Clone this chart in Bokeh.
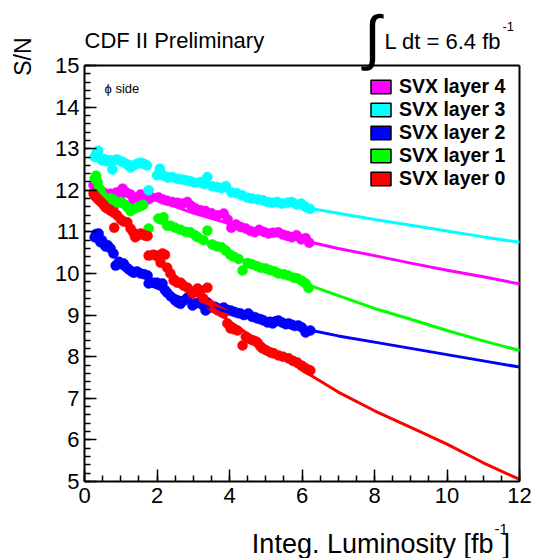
from bokeh.plotting import figure
from bokeh.models import Label, Legend, LegendItem, SingleIntervalTicker
from bokeh.core.properties import value
from bokeh.embed import file_html
from bokeh.resources import INLINE
import math

FONT = "Liberation Sans"

# ---------------- data ----------------
x_ticks = [0, 2, 4, 6, 8, 10, 12]
y_ticks = [5, 6, 7, 8, 9, 10, 11, 12, 13, 14, 15]

# SVX layer 4 (magenta)
x4 = [0.25,0.30,0.35,0.40,0.45,0.52,0.58,0.66,0.72,0.80,0.88,0.97,1.05,1.15,1.27,1.35,1.45,1.55,1.62,1.70,1.76,
      1.85,2.04,2.16,2.28,2.42,2.56,2.70,2.84,2.95,3.06,3.20,3.34,3.50,3.67,3.84,3.95,4.05,4.18,4.30,4.45,4.58,
      4.70,4.82,4.95,5.08,5.20,5.35,5.48,5.60,5.72,5.85,5.98,6.10,6.20]
y4 = [12.12,11.95,12.05,11.90,11.99,11.95,11.90,11.88,11.92,11.59,11.95,11.85,12.04,11.95,11.90,11.75,11.82,11.90,11.85,11.80,11.78,
      11.83,11.83,11.78,11.75,11.72,11.70,11.68,11.72,11.62,11.56,11.52,11.50,11.45,11.40,11.44,11.30,11.10,11.18,11.12,11.08,11.02,
      10.99,11.05,11.00,10.96,10.98,10.99,10.93,10.90,10.87,10.92,10.82,10.85,10.74]

# SVX layer 3 (cyan)
x3 = [0.28,0.33,0.38,0.42,0.48,0.55,0.62,0.70,0.77,0.82,0.90,1.00,1.08,1.18,1.27,1.35,1.45,1.55,1.63,1.72,1.77,
      2.00,2.08,2.18,2.30,2.42,2.55,2.68,2.80,2.92,3.05,3.20,3.30,3.39,3.52,3.65,3.78,3.90,4.05,4.20,4.35,4.50,
      4.62,4.78,4.92,5.05,5.18,5.32,5.45,5.60,5.72,5.85,5.98,6.10,6.22]
y3 = [12.80,12.90,12.95,12.78,12.72,12.75,12.70,12.72,12.50,12.72,12.74,12.70,12.67,12.62,12.55,12.60,12.64,12.66,12.64,12.60,12.00,
      12.36,12.52,12.35,12.30,12.32,12.28,12.26,12.24,12.22,12.18,12.20,12.15,12.32,12.10,12.08,12.05,12.10,11.95,11.93,11.88,11.82,
      11.80,11.78,11.76,11.72,11.70,11.72,11.68,11.70,11.72,11.66,11.68,11.60,11.55]

# SVX layer 2 (blue)
x2 = [0.28,0.32,0.36,0.39,0.44,0.48,0.53,0.58,0.64,0.72,0.80,0.86,0.95,1.02,1.08,1.15,1.22,1.30,1.36,1.45,1.55,1.65,1.74,
      1.77,1.90,2.00,2.10,2.15,2.22,2.28,2.38,2.50,2.58,2.65,2.75,2.84,2.98,3.06,3.15,3.25,3.34,3.39,3.50,3.60,3.67,
      3.76,3.84,3.95,4.03,4.12,4.22,4.30,4.40,4.52,4.62,4.70,4.77,4.86,4.94,5.05,5.12,5.19,5.27,5.35,5.45,5.55,5.63,
      5.72,5.80,5.90,6.00,6.10,6.23]
y2 = [10.87,10.95,10.85,10.96,10.75,10.80,10.72,10.65,10.68,10.60,10.48,10.19,10.28,10.22,10.24,10.15,10.10,10.05,10.02,10.05,10.00,9.98,9.95,
      9.76,9.78,9.78,9.74,9.76,9.60,9.54,9.45,9.35,9.30,9.27,9.35,9.42,9.23,9.28,9.30,9.25,9.11,9.30,9.18,9.20,9.16,
      9.15,9.18,9.12,9.11,9.08,9.05,9.04,9.00,9.04,8.96,8.95,8.92,8.90,8.87,8.82,8.84,8.80,8.85,8.87,8.82,8.78,8.80,
      8.77,8.74,8.75,8.70,8.58,8.63]

# SVX layer 1 (green)
x1 = [0.28,0.32,0.36,0.40,0.45,0.52,0.63,0.72,0.80,0.91,1.00,1.08,1.18,1.27,1.36,1.46,1.55,1.62,1.77,
      2.04,2.12,2.18,2.28,2.37,2.50,2.65,2.80,2.92,3.05,3.12,3.28,3.39,3.52,3.65,3.78,3.90,4.02,4.12,4.25,4.36,
      4.50,4.62,4.75,4.86,5.00,5.12,5.25,5.35,5.50,5.62,5.77,5.88,6.00,6.10,6.18]
y1 = [12.28,12.35,12.20,12.05,12.00,11.85,11.75,11.80,11.78,11.70,11.72,11.68,11.60,11.50,11.55,11.59,11.62,11.65,11.08,
      11.32,11.30,11.35,11.15,11.15,11.10,11.05,11.00,10.99,10.92,10.87,10.80,11.03,10.70,10.65,10.63,10.55,10.45,10.40,10.35,10.07,
      10.25,10.22,10.18,10.14,10.12,10.08,10.05,10.00,9.98,9.95,9.90,9.88,9.82,9.76,9.65]

# SVX layer 0 (red)
x0 = [0.25,0.30,0.36,0.42,0.48,0.53,0.58,0.65,0.72,0.80,0.82,0.90,1.00,1.08,1.18,1.27,1.35,1.40,1.48,1.55,1.62,1.68,1.74,
      1.77,1.90,2.00,2.10,2.15,2.22,2.28,2.37,2.46,2.56,2.65,2.73,2.84,2.98,3.06,3.12,3.20,3.28,3.39,3.47,3.56,3.66,
      3.75,3.84,3.94,4.03,4.12,4.22,4.36,4.45,4.52,4.62,4.70,4.77,4.85,4.91,5.02,5.13,5.22,5.35,5.48,5.63,5.75,5.87,
      6.00,6.10,6.18,6.23]
y0 = [11.92,11.85,11.80,11.75,11.70,11.65,11.59,11.55,11.51,11.47,11.10,11.40,11.30,11.25,11.23,11.08,10.98,10.87,10.92,10.96,10.93,10.91,10.90,
      10.43,10.45,10.43,10.26,10.48,10.45,10.14,10.00,9.83,9.78,9.78,9.71,9.66,9.52,9.58,9.64,9.59,9.40,9.66,9.25,9.18,9.12,
      9.08,9.04,8.80,8.68,8.66,8.63,8.27,8.48,8.44,8.40,8.38,8.34,8.25,8.20,8.15,8.10,8.08,8.03,8.00,7.96,7.90,7.86,
      7.78,7.72,7.68,7.67]

# fitted trend curves
fx4 = [1.9, 3, 4, 5, 6, 7, 8, 9, 10, 11, 12]
fy4 = [11.80, 11.45, 11.20, 10.98, 10.80, 10.60, 10.43, 10.25, 10.08, 9.92, 9.75]
fx3 = [1.95, 3, 4, 5, 6, 7, 8, 9, 10, 11, 12]
fy3 = [12.50, 12.20, 11.97, 11.77, 11.60, 11.45, 11.30, 11.16, 11.02, 10.88, 10.75]
fx2 = [1.8, 2, 3, 4, 5, 6, 7, 8, 9, 10, 11, 12]
fy2 = [9.72, 9.65, 9.30, 9.07, 8.87, 8.68, 8.50, 8.35, 8.20, 8.05, 7.90, 7.75]
fx1 = [1.9, 2, 3, 4, 5, 6, 7, 8, 9, 10, 11, 12]
fy1 = [11.35, 11.30, 10.90, 10.45, 10.10, 9.78, 9.47, 9.16, 8.90, 8.63, 8.38, 8.15]
fx0 = [1.8, 2.5, 3, 4, 5, 6, 7, 8, 9, 10, 11, 12]
fy0 = [10.45, 9.95, 9.55, 8.85, 8.25, 7.68, 7.15, 6.70, 6.30, 5.90, 5.45, 5.05]

names = ["SVX layer 4", "SVX layer 3", "SVX layer 2", "SVX layer 1", "SVX layer 0"]
colors = ["#ff00ff", "#00ffff", "#0000ff", "#00ff00", "#ff0000"]
series = [(x4, y4, fx4, fy4), (x3, y3, fx3, fy3), (x2, y2, fx2, fy2), (x1, y1, fx1, fy1), (x0, y0, fx0, fy0)]

# ---------------- geometry (page pixels) ----------------
W, H = 533, 558
FL, FR, FT, FB = 84, 519, 65, 481          # axes box edges
XPX = (FR - FL) / (x_ticks[-1] - x_ticks[0])
YPX = (FB - FT) / (y_ticks[-1] - y_ticks[0])
x_end = x_ticks[-1] + 2 / XPX               # 2px extra so the right border is not clipped
y_top = y_ticks[-1] + FT / YPX              # frame reaches the top of the canvas

p = figure(width=W, height=H, x_range=(x_ticks[0], x_end), y_range=(y_ticks[0], y_top),
           output_backend="svg", toolbar_location=None,
           min_border_left=FL, min_border_right=W - FR - 2, min_border_top=0, min_border_bottom=H - FB)
p.xgrid.visible = False
p.ygrid.visible = False
p.outline_line_color = None
p.background_fill_color = "white"
p.border_fill_color = "white"

p.xaxis.ticker = SingleIntervalTicker(interval=2, num_minor_ticks=4)
p.yaxis.ticker = SingleIntervalTicker(interval=1, num_minor_ticks=5)
p.xaxis.bounds = (x_ticks[0], x_ticks[-1])
p.yaxis.bounds = (y_ticks[0], y_ticks[-1])
for ax in (p.xaxis, p.yaxis):
    ax.axis_line_width = 2
    ax.axis_line_color = "black"
    ax.major_tick_in = 12
    ax.major_tick_out = 0
    ax.minor_tick_in = 6
    ax.minor_tick_out = 0
    ax.major_tick_line_width = 1.5
    ax.minor_tick_line_width = 1.5
    ax.major_tick_line_color = "black"
    ax.minor_tick_line_color = "black"
    ax.major_label_text_font = FONT
    ax.major_label_text_font_size = "22px"
    ax.major_label_text_color = "black"
p.xaxis.major_label_standoff = 6
p.yaxis.major_label_standoff = 5

# top and right border of the box
p.segment(x0=[x_ticks[0], x_ticks[-1]], y0=[y_ticks[-1], y_ticks[0]],
          x1=[x_ticks[-1], x_ticks[-1]], y1=[y_ticks[-1], y_ticks[-1]],
          line_color="black", line_width=2)

for (xs, ys, fx, fy), c in zip(series, colors):
    p.scatter(xs, ys, size=10, fill_color=c, line_color=c, line_width=0.5)
for (xs, ys, fx, fy), c in zip(series, colors):
    p.line(fx, fy, line_color=c, line_width=3)

# legend with filled boxes (swatch renderers hold no visible data)
nan = float("nan")
items = []
for name, c in zip(names, colors):
    r = p.quad(left=[nan], right=[nan], top=[nan], bottom=[nan],
               fill_color=c, line_color="black", line_width=1.5)
    items.append(LegendItem(label=name, renderers=[r]))
legend = Legend(items=items, location=(368 - FL, FB - 190), padding=0, spacing=0,
                glyph_width=25, glyph_height=17, label_height=17, label_standoff=6,
                label_text_font=FONT, label_text_font_style="bold", label_text_font_size="19.5px",
                label_text_color="black",
                border_line_alpha=0, background_fill_alpha=0)
p.add_layout(legend, "center")

# ---------------- texts ----------------
def px2x(px):
    return x_ticks[0] + (px - FL) / XPX

def py2y(py):
    return y_ticks[-1] - (py - FT) / YPX

def lab(text, px, py, size, align="left", baseline="middle", angle=0.0, font=FONT):
    p.add_layout(Label(x=px2x(px), y=py2y(py), text=text, text_font=font,
                       text_font_size=size, text_align=align, text_baseline=baseline,
                       angle=angle, text_color="black"))

# inside the (extended) frame
lab("CDF II Preliminary", 84, 40, "22px")
lab("\u222b", 372, 37, "60px", align="center", font="Liberation Sans")
lab("L dt = 6.4 fb", 384, 41, "22px")
lab("-1", 502, 26, "13px")
lab("\u03d5 side", 104, 88, "13px")

# outside the frame: text glyphs drawn at overlay level
def outside(text, px, py, size, align="left", angle=0.0):
    p.text(x=[px2x(px)], y=[py2y(py)], text=[text], text_font=value(FONT),
           text_font_size=value(size), text_align=align, text_baseline="middle",
           angle=angle, text_color="black", level="overlay")

outside("S/N", 22, 37, "23px", align="right", angle=math.pi / 2)
outside("Integ. Luminosity [fb", 493, 543, "27px", align="right")
outside("-1", 494, 528, "15px")
outside("]", 502, 543, "27px")

open("out.html", "w").write(file_html(p, INLINE))
